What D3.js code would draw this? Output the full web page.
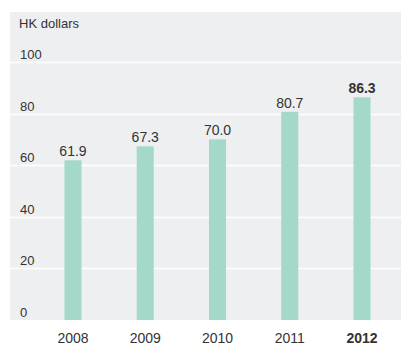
<!DOCTYPE html>
<html>
<head>
<meta charset="utf-8">
<script src="https://cdn.jsdelivr.net/npm/d3@7"></script>
<style>
  body { margin: 0; background: #fff; }
  text { font-family: "Liberation Sans Narrow", "Liberation Sans", sans-serif; font-stretch: condensed; fill: #333; }
</style>
</head>
<body>
<div id="chart"></div>
<script>
var years = ["2008", "2009", "2010", "2011", "2012"];
var values = [61.9, 67.3, 70.0, 80.7, 86.3];
var yTicks = [0, 20, 40, 60, 80, 100];
var highlight = "2012";

var W = 401, H = 347;

var svg = d3.select("#chart").append("svg")
    .attr("width", W)
    .attr("height", H);

// panel
svg.append("rect")
    .attr("x", 10)
    .attr("y", 12)
    .attr("width", W - 10)
    .attr("height", 308)
    .attr("fill", "#eeeff1");

var x = d3.scaleBand()
    .domain(years)
    .range([37, 398])
    .paddingInner(0.764)
    .paddingOuter(0.38);

var y = d3.scaleLinear()
    .domain([0, 100])
    .range([320, 62]);

// grid lines
svg.append("g")
  .selectAll("line")
  .data(yTicks.filter(function(d) { return d > 0; }))
  .enter().append("line")
    .attr("x1", 10)
    .attr("x2", W)
    .attr("y1", function(d) { return Math.round(y(d)) + 0.5; })
    .attr("y2", function(d) { return Math.round(y(d)) + 0.5; })
    .attr("stroke", "#fff")
    .attr("stroke-width", 1.5);

// y labels
svg.append("g")
  .selectAll("text")
  .data(yTicks)
  .enter().append("text")
    .attr("x", 20)
    .attr("y", function(d) { return y(d) - 3; })
    .attr("font-size", 13)
    .text(function(d) { return d; });

svg.append("text")
    .attr("x", 19)
    .attr("y", 28)
    .attr("font-size", 13)
    .text("HK dollars");

// bars
svg.append("g")
  .selectAll("rect")
  .data(values)
  .enter().append("rect")
    .attr("x", function(d, i) { return x(years[i]); })
    .attr("y", function(d) { return y(d); })
    .attr("width", x.bandwidth())
    .attr("height", function(d) { return y(0) - y(d); })
    .attr("fill", "#a3d8cb");

// value labels
svg.append("g")
  .selectAll("text")
  .data(values)
  .enter().append("text")
    .attr("x", function(d, i) { return x(years[i]) + x.bandwidth() / 2; })
    .attr("y", function(d) { return y(d) - 4; })
    .attr("text-anchor", "middle")
    .attr("font-size", 14)
    .attr("font-weight", function(d, i) { return years[i] === highlight ? "bold" : "normal"; })
    .text(function(d) { return d.toFixed(1); });

// year labels
svg.append("g")
  .selectAll("text")
  .data(years)
  .enter().append("text")
    .attr("x", function(d) { return x(d) + x.bandwidth() / 2; })
    .attr("y", 343)
    .attr("text-anchor", "middle")
    .attr("font-size", 14)
    .attr("font-weight", function(d) { return d === highlight ? "bold" : "normal"; })
    .text(function(d) { return d; });
</script>
</body>
</html>
